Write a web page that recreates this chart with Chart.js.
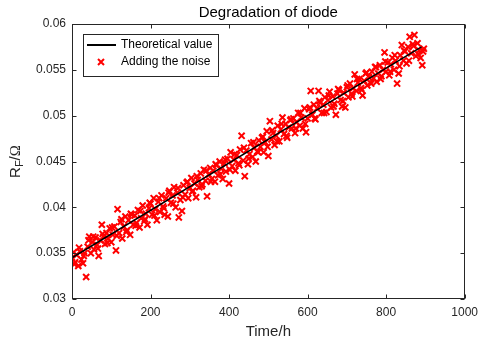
<!DOCTYPE html>
<html>
<head>
<meta charset="utf-8">
<script src="https://cdn.jsdelivr.net/npm/chart.js@4.4.1/dist/chart.umd.min.js"></script>
<style>
  body { margin: 0; background: #fff; }
  #wrap { width: 484px; height: 345px; }
</style>
</head>
<body>
<div id="wrap"><canvas id="chart"></canvas></div>
<script>
// measured points (time in hours, forward resistance in ohm)
var hours = [
  0, 4, 8, 12, 16, 20, 24, 28, 32, 36,
  40, 44, 48, 52, 56, 60, 64, 68, 72, 76,
  80, 84, 88, 92, 96, 100, 104, 108, 112, 116,
  120, 124, 128, 132, 136, 140, 144, 148, 152, 156,
  160, 164, 168, 172, 176, 180, 184, 188, 192, 196,
  200, 204, 208, 212, 216, 220, 224, 228, 232, 236,
  240, 244, 248, 252, 256, 260, 264, 268, 272, 276,
  280, 284, 288, 292, 296, 300, 304, 308, 312, 316,
  320, 324, 328, 332, 336, 340, 344, 348, 352, 356,
  360, 364, 368, 372, 376, 380, 384, 388, 392, 396,
  400, 404, 408, 412, 416, 420, 424, 428, 432, 436,
  440, 444, 448, 452, 456, 460, 464, 468, 472, 476,
  480, 484, 488, 492, 496, 500, 504, 508, 512, 516,
  520, 524, 528, 532, 536, 540, 544, 548, 552, 556,
  560, 564, 568, 572, 576, 580, 584, 588, 592, 596,
  600, 604, 608, 612, 616, 620, 624, 628, 632, 636,
  640, 644, 648, 652, 656, 660, 664, 668, 672, 676,
  680, 684, 688, 692, 696, 700, 704, 708, 712, 716,
  720, 724, 728, 732, 736, 740, 744, 748, 752, 756,
  760, 764, 768, 772, 776, 780, 784, 788, 792, 796,
  800, 804, 808, 812, 816, 820, 824, 828, 832, 836,
  840, 844, 848, 852, 856, 860, 864, 868, 872, 876,
  880, 884, 888, 892, 896
];
var noisy = [
  0.0345, 0.0351, 0.0340, 0.0348, 0.0336, 0.0352, 0.0343, 0.0339, 0.0350, 0.0324,
  0.0357, 0.0368, 0.0350, 0.0362, 0.0354, 0.0367, 0.0359, 0.0347, 0.0364, 0.0381,
  0.0368, 0.0360, 0.0372, 0.0366, 0.0377, 0.0362, 0.0370, 0.0379, 0.0353, 0.0398,
  0.0372, 0.0384, 0.0366, 0.0379, 0.0390, 0.0375, 0.0386, 0.0370, 0.0392, 0.0381,
  0.0391, 0.0383, 0.0397, 0.0378, 0.0388, 0.0402, 0.0385, 0.0393, 0.0381, 0.0399,
  0.0404, 0.0392, 0.0410, 0.0398, 0.0386, 0.0406, 0.0395, 0.0413, 0.0401, 0.0392,
  0.0410, 0.0390, 0.0418, 0.0405, 0.0413, 0.0422, 0.0400, 0.0416, 0.0389, 0.0408,
  0.0396, 0.0424, 0.0414, 0.0427, 0.0410, 0.0421, 0.0432, 0.0418, 0.0426, 0.0411,
  0.0430, 0.0422, 0.0437, 0.0425, 0.0441, 0.0429, 0.0412, 0.0436, 0.0443, 0.0431,
  0.0440, 0.0428, 0.0446, 0.0435, 0.0450, 0.0442, 0.0431, 0.0448, 0.0439, 0.0453,
  0.0426, 0.0460, 0.0445, 0.0452, 0.0440, 0.0457, 0.0448, 0.0463, 0.0478, 0.0451,
  0.0434, 0.0462, 0.0447, 0.0458, 0.0470, 0.0455, 0.0465, 0.0450, 0.0461, 0.0473,
  0.0466, 0.0476, 0.0460, 0.0471, 0.0483, 0.0456, 0.0494, 0.0474, 0.0481, 0.0468,
  0.0478, 0.0489, 0.0472, 0.0485, 0.0498, 0.0480, 0.0491, 0.0476, 0.0487, 0.0495,
  0.0486, 0.0497, 0.0481, 0.0493, 0.0503, 0.0489, 0.0498, 0.0486, 0.0508, 0.0482,
  0.0497, 0.0507, 0.0527, 0.0501, 0.0512, 0.0496, 0.0508, 0.0527, 0.0514, 0.0503,
  0.0512, 0.0520, 0.0504, 0.0517, 0.0526, 0.0509, 0.0521, 0.0513, 0.0501, 0.0524,
  0.0528, 0.0517, 0.0510, 0.0525, 0.0509, 0.0531, 0.0520, 0.0535, 0.0524, 0.0530,
  0.0545, 0.0527, 0.0536, 0.0540, 0.0530, 0.0522, 0.0538, 0.0546, 0.0533, 0.0542,
  0.0536, 0.0548, 0.0541, 0.0553, 0.0537, 0.0546, 0.0555, 0.0543, 0.0550, 0.0569,
  0.0548, 0.0558, 0.0544, 0.0556, 0.0563, 0.0550, 0.0560, 0.0535, 0.0546, 0.0566,
  0.0577, 0.0560, 0.0570, 0.0557, 0.0575, 0.0586, 0.0568, 0.0578, 0.0588, 0.0565,
  0.0579, 0.0571, 0.0563, 0.0555, 0.0573
];
// in-between samples
var hoursB = [
  6, 18, 30, 42, 54, 66, 78, 90, 102, 114,
  126, 138, 150, 162, 174, 186, 198, 210, 222, 234,
  246, 258, 270, 282, 294, 306, 318, 330, 342, 354,
  366, 378, 390, 402, 414, 426, 438, 450, 462, 474,
  486, 498, 510, 522, 534, 546, 558, 570, 582, 594,
  606, 618, 630, 642, 654, 666, 678, 690, 702, 714,
  726, 738, 750, 762, 774, 786, 798, 810, 822, 834,
  846, 858, 870, 882, 894
];
var noisyB = [
  0.0338, 0.0356, 0.0347, 0.0364, 0.0368, 0.0355, 0.0371, 0.0361, 0.0378, 0.0369,
  0.0387, 0.0373, 0.0393, 0.0380, 0.0396, 0.0387, 0.0405, 0.0391, 0.0410, 0.0399,
  0.0416, 0.0404, 0.0421, 0.0411, 0.0428, 0.0417, 0.0434, 0.0423, 0.0440, 0.0428,
  0.0447, 0.0436, 0.0452, 0.0441, 0.0458, 0.0446, 0.0465, 0.0453, 0.0471, 0.0460,
  0.0477, 0.0466, 0.0484, 0.0472, 0.0491, 0.0478, 0.0496, 0.0486, 0.0503, 0.0491,
  0.0509, 0.0497, 0.0516, 0.0503, 0.0522, 0.0510, 0.0529, 0.0516, 0.0533, 0.0521,
  0.0540, 0.0528, 0.0547, 0.0535, 0.0553, 0.0540, 0.0559, 0.0548, 0.0566, 0.0554,
  0.0571, 0.0560, 0.0576, 0.0567, 0.0570
];
// theoretical value (straight line, end points)
var lineHours = [0, 890];
var lineRf = [0.0345, 0.0575];

var xTicks = [0, 200, 400, 600, 800, 1000];
var yTicks = [0.03, 0.035, 0.04, 0.045, 0.05, 0.055, 0.06];
var seriesNames = ["Theoretical value", "Adding the noise"];

var axisColor = "#262626";
var fontFam = "'Liberation Sans', Arial, Helvetica, sans-serif";

function pairs(xs, ys) {
  var out = [];
  for (var i = 0; i < xs.length; i++) out.push({ x: xs[i], y: ys[i] });
  return out;
}

// draws box, inward ticks, title, axis titles and legend like matlab
var decor = {
  id: "decor",
  afterDraw: function (chart) {
    var ctx = chart.ctx;
    var a = chart.chartArea;
    var sx = chart.scales.x, sy = chart.scales.y;
    ctx.save();
    ctx.strokeStyle = axisColor;
    ctx.lineWidth = 1;
    var L = Math.round(a.left) + 0.5, R = Math.round(a.right) - 0.5;
    var T = Math.round(a.top) + 0.5, B = Math.round(a.bottom) - 0.5;
    ctx.strokeRect(L, T, R - L, B - T);

    ctx.beginPath();
    xTicks.forEach(function (v) {
      var px = Math.round(sx.getPixelForValue(v)) + 0.5;
      ctx.moveTo(px, B); ctx.lineTo(px, B - 4);
      ctx.moveTo(px, T); ctx.lineTo(px, T + 4);
    });
    yTicks.forEach(function (v) {
      var py = Math.round(sy.getPixelForValue(v)) + 0.5;
      ctx.moveTo(L, py); ctx.lineTo(L + 4, py);
      ctx.moveTo(R, py); ctx.lineTo(R - 4, py);
    });
    ctx.stroke();

    // title
    var cx = (a.left + a.right) / 2;
    ctx.fillStyle = "#000";
    ctx.font = "15px " + fontFam;
    ctx.textAlign = "center";
    ctx.textBaseline = "middle";
    ctx.fillText("Degradation of diode", cx, 13);

    // x title
    ctx.fillStyle = axisColor;
    ctx.fillText("Time/h", cx, 332);

    // y title R_F/Ω
    ctx.save();
    ctx.translate(16, (a.top + a.bottom) / 2);
    ctx.rotate(-Math.PI / 2);
    ctx.textAlign = "left";
    ctx.textBaseline = "middle";
    var fBig = "15px " + fontFam, fSmall = "11px " + fontFam, fOm = "15px 'Liberation Serif', serif";
    ctx.font = fBig; var wR = ctx.measureText("R").width;
    ctx.font = fSmall; var wF = ctx.measureText("F").width;
    ctx.font = fBig; var wS = ctx.measureText("/").width;
    ctx.font = fOm; var wO = ctx.measureText("\u03A9").width;
    var x0 = -(wR + wF + wS + wO) / 2;
    ctx.font = fBig; ctx.fillText("R", x0, 0);
    ctx.font = fSmall; ctx.fillText("F", x0 + wR, 4);
    ctx.font = fBig; ctx.fillText("/", x0 + wR + wF, 0);
    ctx.font = fOm; ctx.fillText("\u03A9", x0 + wR + wF + wS, 0);
    ctx.restore();

    // legend
    var lx = 83, ly = 34, lw = 135, lh = 42;
    ctx.fillStyle = "#fff";
    ctx.fillRect(lx, ly, lw, lh);
    ctx.strokeStyle = axisColor;
    ctx.strokeRect(lx + 0.5, ly + 0.5, lw, lh);
    ctx.font = "12px " + fontFam;
    ctx.fillStyle = "#000";
    ctx.textAlign = "left";
    ctx.textBaseline = "middle";
    var r1 = ly + 11, r2 = ly + 28;
    ctx.strokeStyle = "#000";
    ctx.lineWidth = 2;
    ctx.beginPath(); ctx.moveTo(87, r1); ctx.lineTo(116, r1); ctx.stroke();
    ctx.fillText(seriesNames[0], 121, r1);
    ctx.strokeStyle = "#ff0000";
    ctx.beginPath();
    ctx.moveTo(98, r2 - 3); ctx.lineTo(104, r2 + 3);
    ctx.moveTo(98, r2 + 3); ctx.lineTo(104, r2 - 3);
    ctx.stroke();
    ctx.fillText(seriesNames[1], 121, r2);
    ctx.restore();
  }
};

var ctx = document.getElementById("chart");
var chart = new Chart(ctx, {
  type: "scatter",
  data: {
    datasets: [
      {
        label: seriesNames[0],
        data: pairs(lineHours, lineRf),
        showLine: true,
        borderColor: "#000",
        borderWidth: 1.5,
        pointRadius: 0,
        order: 0
      },
      {
        label: seriesNames[1],
        data: pairs(hours, noisy).concat(pairs(hoursB, noisyB)),
        pointStyle: "crossRot",
        pointRadius: 4.3,
        borderColor: "#ff0000",
        backgroundColor: "#ff0000",
        borderWidth: 2,
        order: 1
      }
    ]
  },
  options: {
    responsive: true,
    maintainAspectRatio: false,
    animation: false,
    layout: { padding: { top: 24, right: 14, left: 0, bottom: 0 } },
    plugins: { legend: { display: false }, title: { display: false }, tooltip: { enabled: false } },
    scales: {
      x: {
        type: "linear",
        min: 0, max: 1000,
        afterFit: function (s) { s.height = 46; },
        afterBuildTicks: function (s) { s.ticks = xTicks.map(function (v) { return { value: v }; }); },
        grid: { display: false, drawTicks: false },
        border: { display: false },
        ticks: {
          color: axisColor, font: { family: fontFam, size: 12 }, padding: 6, maxRotation: 0,
          callback: function (v) { return String(v); }
        }
      },
      y: {
        type: "linear",
        min: 0.03, max: 0.06,
        afterFit: function (s) { s.width = 72; },
        afterBuildTicks: function (s) { s.ticks = yTicks.map(function (v) { return { value: v }; }); },
        grid: { display: false, drawTicks: false },
        border: { display: false },
        ticks: {
          color: axisColor, font: { family: fontFam, size: 12 }, padding: 6,
          callback: function (v) { return String(+v.toFixed(4)); }
        }
      }
    }
  },
  plugins: [decor]
});
</script>
</body>
</html>
